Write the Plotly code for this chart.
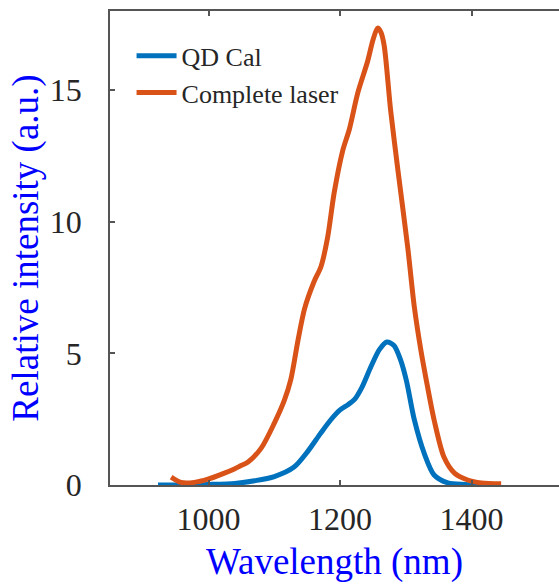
import plotly.graph_objects as go

# Emission spectra (wavelength in nm, relative intensity in a.u.)
qd_wavelength = [923, 960, 1000, 1040, 1070, 1100, 1130, 1150, 1170, 1185, 1200, 1212,
                 1222, 1233, 1247, 1260, 1271, 1282, 1292, 1301, 1313, 1328, 1343, 1364,
                 1390, 1430]
qd_intensity = [0.0, 0.0, 0.02, 0.06, 0.16, 0.32, 0.68, 1.25, 1.95, 2.45, 2.85, 3.05,
                3.25, 3.7, 4.5, 5.15, 5.43, 5.3, 4.75, 3.95, 2.47, 1.2, 0.38, 0.08,
                0.02, 0.0]

laser_wavelength = [943, 958, 978, 999, 1024, 1040, 1048, 1060, 1080, 1100, 1115, 1125,
                    1136, 1146, 1160, 1171, 1181, 1191, 1204, 1214, 1227, 1242, 1250,
                    1257, 1262, 1267, 1277, 1288, 1303, 1313, 1323, 1331, 1343, 1358,
                    1374, 1394, 1415, 1445]
laser_intensity = [0.3, 0.1, 0.1, 0.22, 0.45, 0.62, 0.72, 0.87, 1.4, 2.35, 3.2, 4.0,
                   5.5, 6.7, 7.7, 8.3, 9.4, 11.1, 12.7, 13.5, 14.9, 16.1, 16.9,
                   17.35, 17.2, 16.7, 14.2, 11.95, 9.0, 6.75, 5.1, 4.0, 2.47, 1.06,
                   0.45, 0.19, 0.08, 0.05]

x_ticks = [1000, 1200, 1400]
y_ticks = [0, 5, 10, 15]

FONT = "Liberation Serif"
AXIS_COLOR = "#555555"
TEXT_COLOR = "#262626"

fig = go.Figure()
fig.add_trace(go.Scatter(x=qd_wavelength, y=qd_intensity, mode="lines", name="QD Cal",
                         line=dict(color="#0072BD", width=5, shape="spline", smoothing=0.8)))
fig.add_trace(go.Scatter(x=laser_wavelength, y=laser_intensity, mode="lines",
                         name="Complete laser",
                         line=dict(color="#D95319", width=5, shape="spline", smoothing=0.8)))

fig.update_layout(
    width=559, height=586,
    margin=dict(l=110, r=0, t=11, b=101),
    paper_bgcolor="white", plot_bgcolor="white",
    font=dict(family=FONT, color=TEXT_COLOR),
    showlegend=True,
    legend=dict(x=0.048, y=0.955, xanchor="left", yanchor="top",
                font=dict(family=FONT, size=26, color=TEXT_COLOR),
                bgcolor="rgba(0,0,0,0)", itemwidth=40, tracegroupgap=0),
    xaxis=dict(range=[850, 1533], tickvals=x_ticks, ticks="inside", ticklen=5,
               tickwidth=1.5, tickcolor=AXIS_COLOR, showline=True, linecolor=AXIS_COLOR,
               linewidth=1.5, showgrid=False, zeroline=False,
               tickfont=dict(family=FONT, size=32, color=TEXT_COLOR),
               ticklabelstandoff=5,
               title=dict(text="Wavelength (nm)", standoff=12,
                          font=dict(family=FONT, size=37, color="#0000FF"))),
    xaxis2=dict(matches="x", overlaying="x", side="top", anchor="y", tickvals=x_ticks,
                ticks="inside", ticklen=5, tickwidth=1.5, tickcolor=AXIS_COLOR,
                showline=True, linecolor=AXIS_COLOR, linewidth=1.5,
                showticklabels=False, showgrid=False, zeroline=False),
    yaxis=dict(range=[0, 18], tickvals=y_ticks, ticks="inside", ticklen=5,
               tickwidth=1.5, tickcolor=AXIS_COLOR, showline=True, linecolor=AXIS_COLOR,
               linewidth=1.5, showgrid=False, zeroline=False,
               tickfont=dict(family=FONT, size=32, color=TEXT_COLOR),
               ticklabelstandoff=20,
               title=dict(text="Relative intensity (a.u.)", standoff=0,
                          font=dict(family=FONT, size=37, color="#0000FF"))),
)

# invisible trace so the top axis is drawn
fig.add_trace(go.Scatter(x=[1000], y=[0], xaxis="x2", mode="markers",
                         marker=dict(opacity=0), showlegend=False, hoverinfo="skip"))

fig.write_html("out.html")
